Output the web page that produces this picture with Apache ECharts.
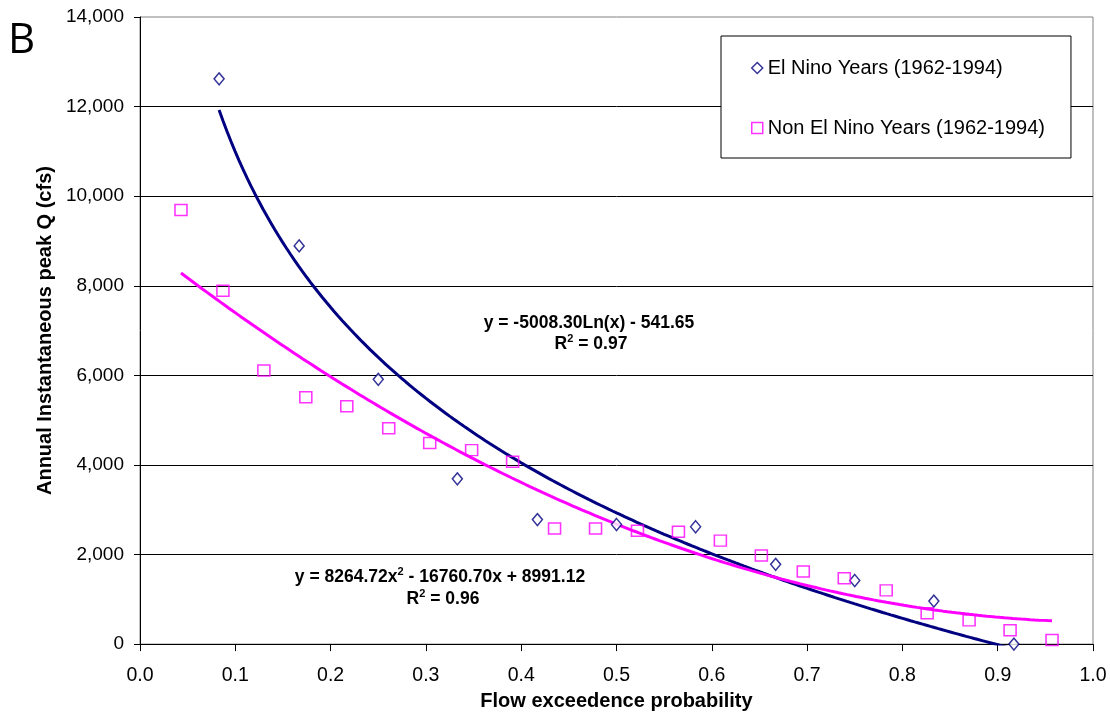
<!DOCTYPE html>
<html>
<head>
<meta charset="utf-8">
<script src="https://cdn.jsdelivr.net/npm/echarts@6/dist/echarts.min.js"></script>
<style>
html,body{margin:0;padding:0;background:#fff;width:1110px;height:716px;overflow:hidden;}
#chart{width:1110px;height:716px;overflow:hidden;display:block;}
</style>
</head>
<body>
<div id="chart"></div>
<script>
// ---- data ----
const elNinoX = [0.083, 0.167, 0.25, 0.333, 0.417, 0.5, 0.583, 0.667, 0.75, 0.833, 0.917];
const elNinoY = [12620, 8890, 5910, 3690, 2780, 2670, 2620, 1780, 1420, 960, 0];
const nonX = [0.043, 0.087, 0.130, 0.174, 0.217, 0.261, 0.304, 0.348, 0.391, 0.435, 0.478,
              0.522, 0.565, 0.609, 0.652, 0.696, 0.739, 0.783, 0.826, 0.870, 0.913, 0.957];
const nonY = [9690, 7890, 6110, 5510, 5310, 4820, 4490, 4330, 4070, 2580, 2580,
              2530, 2510, 2310, 1980, 1620, 1470, 1200, 690, 530, 310, 90];
// trend line equations printed on the chart
const logCoef = [-5008.30, -541.65];            // y = a ln(x) + b
const polyCoef = [8264.72, -16760.70, 8991.12]; // y = a x^2 + b x + c
const seriesNames = ['El Nino Years (1962-1994)', 'Non El Nino Years (1962-1994)'];
const xTitle = 'Flow exceedence probability';
const yTitle = 'Annual Instantaneous peak Q (cfs)';

function trend(fn, x0, x1) {
  const pts = [];
  const n = 200;
  for (let i = 0; i <= n; i++) {
    const x = x0 + (x1 - x0) * i / n;
    pts.push([x, fn(x)]);
  }
  return pts;
}
const logLine = trend(x => logCoef[0] * Math.log(x) + logCoef[1], elNinoX[0], elNinoX[elNinoX.length - 1]);
const polyLine = trend(x => polyCoef[0] * x * x + polyCoef[1] * x + polyCoef[2], nonX[0], nonX[nonX.length - 1]);

const NAVY = '#000080', MAG = '#FF00FF';
const FONT = '"Liberation Sans", Arial, sans-serif';
const ANN = 17.5;
const richAnn = {
  b: {fontFamily: FONT, fontSize: ANN, fontWeight: 'bold', color: '#000'},
  s: {fontFamily: FONT, fontSize: 11, fontWeight: 'bold', color: '#000', verticalAlign: 'top', padding: [0, 0, 10, 0]}
};

const chart = echarts.init(document.getElementById('chart'), null, {renderer: 'canvas', width: 1110, height: 716});
chart.setOption({
  animation: false,
  backgroundColor: '#fff',
  grid: {left: 140, right: 17, top: 17, bottom: 69, show: true, borderColor: '#808080', borderWidth: 1, backgroundColor: 'transparent'},
  xAxis: {
    type: 'value', min: 0, max: 1, interval: 0.1,
    name: xTitle, nameLocation: 'middle', nameGap: 46,
    nameTextStyle: {fontFamily: FONT, fontSize: 20, fontWeight: 'bold', color: '#000'},
    axisLine: {show: true, lineStyle: {color: '#000', width: 1}},
    axisTick: {show: true, inside: false, length: 7, lineStyle: {color: '#000'}},
    axisLabel: {fontFamily: FONT, fontSize: 19.5, color: '#000', margin: 22, formatter: v => v.toFixed(1)},
    splitLine: {show: false}
  },
  yAxis: {
    type: 'value', min: 0, max: 14000, interval: 2000,
    name: yTitle, nameLocation: 'middle', nameGap: 85, nameRotate: 90,
    nameTextStyle: {fontFamily: FONT, fontSize: 20, fontWeight: 'bold', color: '#000'},
    axisLine: {show: true, lineStyle: {color: '#000', width: 1}},
    axisTick: {show: true, inside: false, length: 6, lineStyle: {color: '#000'}},
    axisLabel: {fontFamily: FONT, fontSize: 19, color: '#000', margin: 16,
      formatter: v => v.toLocaleString('en-US')},
    splitLine: {show: true, showMinLine: false, showMaxLine: false, lineStyle: {color: '#000', width: 1}}
  },
  legend: {
    data: [
      {name: seriesNames[0], icon: 'diamond', itemStyle: {color: '#fff', borderColor: NAVY, borderWidth: 1.5}},
      {name: seriesNames[1], icon: 'rect', itemStyle: {color: '#fff', borderColor: MAG, borderWidth: 1.5}}
    ],
    orient: 'vertical', left: 721, top: 36,
    padding: [22, 26, 20, 30], itemGap: 40, itemWidth: 11, itemHeight: 11,
    borderColor: '#000', borderWidth: 1, backgroundColor: '#fff',
    textStyle: {fontFamily: FONT, fontSize: 20, color: '#000'}
  },
  series: [
    {name: 'logTrend', type: 'line', data: logLine, showSymbol: false, symbol: 'none', clip: true,
      lineStyle: {color: NAVY, width: 3}, z: 2, silent: true},
    {name: 'polyTrend', type: 'line', data: polyLine, showSymbol: false, symbol: 'none', clip: true,
      lineStyle: {color: MAG, width: 3}, z: 2, silent: true},
    {name: seriesNames[0], type: 'scatter', data: elNinoX.map((x, i) => [x, elNinoY[i]]),
      symbol: 'diamond', symbolSize: [10, 12], clip: false,
      itemStyle: {color: '#fff', borderColor: NAVY, borderWidth: 1.5}, z: 3},
    {name: seriesNames[1], type: 'scatter', data: nonX.map((x, i) => [x, nonY[i]]),
      symbol: 'rect', symbolSize: [12, 11], clip: false,
      itemStyle: {color: 'transparent', borderColor: MAG, borderWidth: 1.5}, z: 3}
  ],
  graphic: [
    {type: 'text', left: 8, top: 20, style: {text: 'B', fontFamily: '"Open Sans", sans-serif', fontSize: 42, fill: '#000'}},
    {type: 'text', x: 589, y: 323, style: {text: '{b|y = -5008.30Ln(x) - 541.65}', align: 'center', verticalAlign: 'middle', rich: richAnn}},
    {type: 'text', x: 591, y: 344, style: {text: '{b|R}{s|2}{b| = 0.97}', align: 'center', verticalAlign: 'middle', rich: richAnn}},
    {type: 'text', x: 440, y: 577, style: {text: '{b|y = 8264.72x}{s|2}{b| - 16760.70x + 8991.12}', align: 'center', verticalAlign: 'middle', rich: richAnn}},
    {type: 'text', x: 443, y: 599, style: {text: '{b|R}{s|2}{b| = 0.96}', align: 'center', verticalAlign: 'middle', rich: richAnn}}
  ]
});
</script>
</body>
</html>
